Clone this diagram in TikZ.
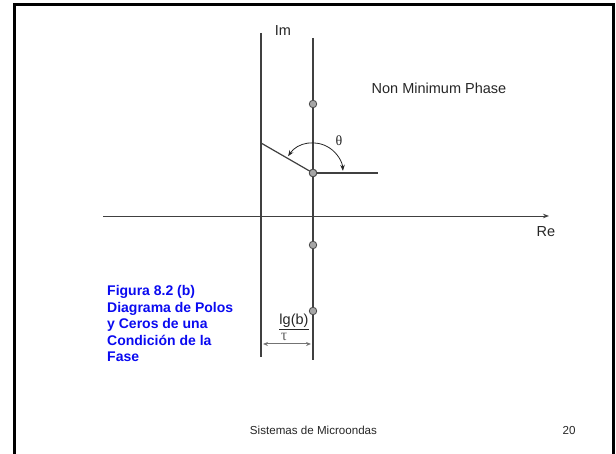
\documentclass[tikz,border=0pt]{standalone}
\usepackage{fontspec}
\setmainfont{Liberation Sans}
\newfontfamily\serifth{Liberation Serif}
\usetikzlibrary{arrows.meta}
\tikzset{
  axisline/.style={draw=black!75, line width=1.2pt},
  zero/.style={circle, draw=black!70, fill=black!35, line width=0.8pt, minimum size=7.5pt, inner sep=0pt},
  lbl/.style={font=\fontsize{14.5}{17}\selectfont, text=black!85, inner sep=0pt},
  foot/.style={font=\fontsize{11.6}{14}\selectfont, text=black!85, inner sep=0pt},
  bluetext/.style={font=\fontsize{14}{16.5}\selectfont\bfseries, text={rgb,255:red,10;green,10;blue,240}, align=left, inner sep=0pt},
  tip/.style={-{Stealth[length=6pt,width=4.5pt]}},
}
\begin{document}
\begin{tikzpicture}[x=1pt,y=1pt]
\useasboundingbox (0,0) rectangle (616,454);
% frame
\draw[line width=3pt] (14,-10) -- (14,449) -- (613,449) -- (613,-10);
% axes
\coordinate (lt) at (261,421); \coordinate (lb) at (261,97);
\coordinate (rt) at (313,416); \coordinate (rb) at (313,94);
\coordinate (al) at (103,238); \coordinate (ar) at (549,238);
\draw[axisline] (lt) -- (lb);
\draw[axisline] (rt) -- (rb);
\draw[axisline, line width=0.9pt, tip] (al) -- (ar);
\node[lbl, anchor=base] (im) at (283,418) {Im};
\node[lbl, anchor=base] (re) at (546,217) {Re};
% zeros
\node[zero] (z1) at (313,350) {};
\node[zero] (z2) at (313,281) {};
\node[zero] (z3) at (313,209) {};
\node[zero] (z4) at (313,143) {};
% angle lines
\coordinate (sl) at (261,311);
\coordinate (hr) at (378,281);
\draw[axisline] (z2.center) -- (sl);
\draw[axisline] (z2.east) -- (hr);
\node[zero] at (z2) {};
% theta arc
\draw[black!85, line width=0.8pt, {Stealth[length=6pt,width=4.5pt]}-{Stealth[length=6pt,width=4.5pt]}] (z2.center) ++(146:30) arc[start angle=146, end angle=4, radius=30];
\node[font=\serifth\fontsize{14}{16}\selectfont, text=black!85, inner sep=0pt] (th) at (339,313) {θ};
% label
\node[lbl, anchor=base] (nmp) at (439,360) {Non Minimum Phase};
% lg(b) and tau
\node[lbl, anchor=base] (lg) at (294,129) {\underline{lg(b)}};
\node[font=\serifth\fontsize{16}{18}\selectfont, text=black!60, inner sep=0pt] (tau) at (284,117) {τ};
\coordinate (da) at (263,110); \coordinate (db) at (311,110);
\draw[black!55, line width=1pt, {Stealth[length=5pt,width=4pt]}-{Stealth[length=5pt,width=4pt]}] (da) -- (db);
% blue caption
\node[bluetext, anchor=base west] (cap) at (107,92) {Figura 8.2 (b)\\Diagrama de Polos\\y Ceros de una\\Condición de la\\Fase};
% footer
\node[foot, anchor=base] (ft) at (313.5,19) {Sistemas de Microondas};
\node[foot, anchor=base] (pg) at (569,19) {20};
\end{tikzpicture}
\end{document}
